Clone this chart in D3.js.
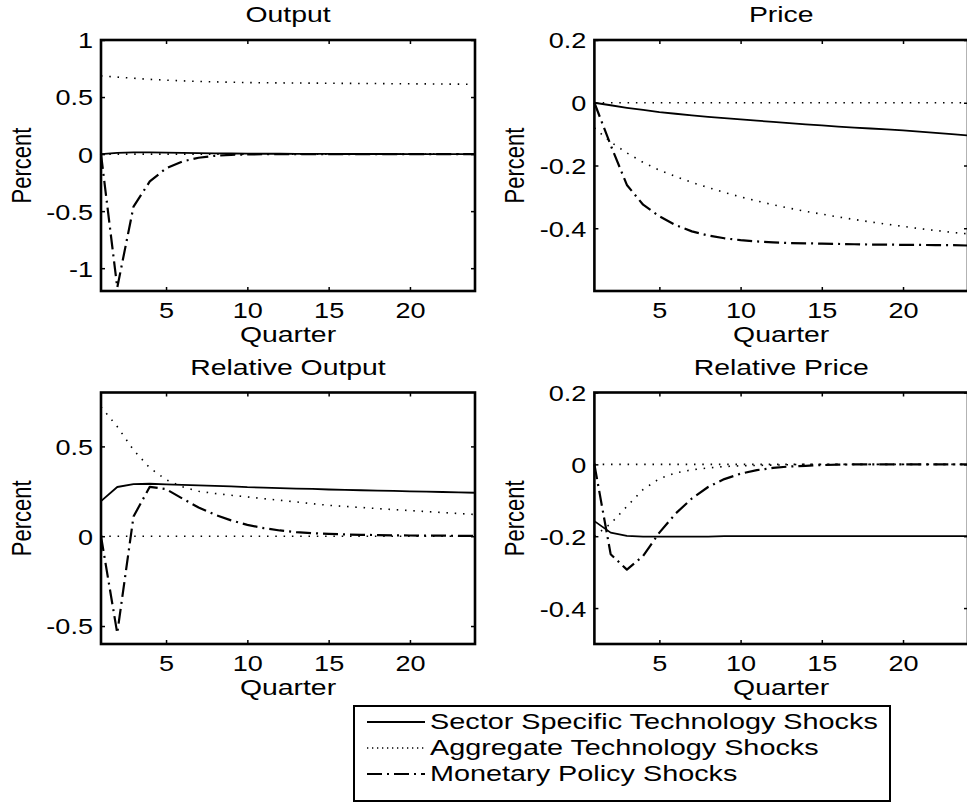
<!DOCTYPE html>
<html>
<head>
<meta charset="utf-8">
<script src="https://cdn.jsdelivr.net/npm/d3@7"></script>
<style>
  body { margin: 0; background: #fff; }
  svg { display: block; overflow: hidden; }
  text { font-family: "Liberation Sans", Arial, Helvetica, sans-serif; fill: #000; }
</style>
</head>
<body>
<div id="chart"></div>
<script>
// quarters after the shock
const quarters = [1, 2, 3, 4, 5, 6, 7, 8, 9, 10, 11, 12, 13, 14, 15, 16, 17, 18, 19, 20, 21, 22, 23, 24]
const xTicks = [5, 10, 15, 20]
const seriesNames = ['Sector Specific Technology Shocks', 'Aggregate Technology Shocks', 'Monetary Policy Shocks']
const panelTitles = ['Output', 'Price', 'Relative Output', 'Relative Price']

// Output
const outputSector = [0, 0.01, 0.015, 0.015, 0.012, 0.01, 0.008, 0.006, 0.005, 0.004, 0.003, 0.003, 0.002, 0.002, 0.002, 0.001, 0.001, 0.001, 0.001, 0, 0, 0, 0, 0]
const outputAggregate = [0.685, 0.675, 0.665, 0.655, 0.648, 0.642, 0.637, 0.633, 0.63, 0.627, 0.625, 0.624, 0.623, 0.622, 0.621, 0.62, 0.619, 0.618, 0.617, 0.616, 0.615, 0.614, 0.613, 0.612]
const outputMonetary = [0, -1.17, -0.46, -0.24, -0.125, -0.065, -0.032, -0.015, -0.007, -0.003, -0.001, 0, 0, 0, 0, 0, 0, 0, 0, 0, 0, 0, 0, 0]
const outputTicks = [-1, -0.5, 0, 0.5, 1]

// Price
const priceSector = [0, -0.008, -0.016, -0.023, -0.03, -0.035, -0.04, -0.045, -0.049, -0.053, -0.057, -0.061, -0.065, -0.069, -0.072, -0.076, -0.079, -0.082, -0.085, -0.088, -0.092, -0.096, -0.1, -0.104]
const priceAggregate = [-0.08, -0.125, -0.16, -0.19, -0.215, -0.235, -0.254, -0.27, -0.286, -0.3, -0.313, -0.325, -0.336, -0.346, -0.355, -0.364, -0.372, -0.38, -0.387, -0.394, -0.401, -0.407, -0.413, -0.418]
const priceMonetary = [0, -0.135, -0.262, -0.325, -0.362, -0.39, -0.41, -0.423, -0.432, -0.438, -0.442, -0.445, -0.447, -0.448, -0.449, -0.45, -0.451, -0.452, -0.452, -0.453, -0.453, -0.454, -0.454, -0.455]
const priceTicks = [-0.4, -0.2, 0, 0.2]

// Relative Output
const relOutputSector = [0.195, 0.274, 0.29, 0.292, 0.289, 0.286, 0.283, 0.28, 0.277, 0.273, 0.271, 0.268, 0.265, 0.263, 0.26, 0.258, 0.256, 0.254, 0.252, 0.25, 0.248, 0.246, 0.244, 0.242]
const relOutputAggregate = [0.72, 0.61, 0.48, 0.38, 0.315, 0.275, 0.25, 0.238, 0.228, 0.219, 0.209, 0.2, 0.191, 0.181, 0.172, 0.166, 0.16, 0.154, 0.148, 0.143, 0.137, 0.132, 0.126, 0.121]
const relOutputMonetary = [0, -0.54, 0.11, 0.275, 0.262, 0.21, 0.16, 0.12, 0.088, 0.063, 0.045, 0.032, 0.023, 0.017, 0.013, 0.01, 0.008, 0.006, 0.005, 0.004, 0.003, 0.003, 0.002, 0.002]
const relOutputTicks = [-0.5, 0, 0.5]

// Relative Price
const relPriceSector = [-0.158, -0.19, -0.199, -0.201, -0.201, -0.201, -0.201, -0.201, -0.2, -0.2, -0.2, -0.2, -0.2, -0.2, -0.2, -0.2, -0.2, -0.2, -0.2, -0.2, -0.2, -0.2, -0.2, -0.2]
const relPriceAggregate = [-0.2, -0.165, -0.117, -0.07, -0.04, -0.024, -0.015, -0.01, -0.006, -0.004, -0.003, -0.002, -0.001, 0, 0, 0, 0, 0, 0, 0, 0, 0, 0, 0]
const relPriceMonetary = [0, -0.25, -0.293, -0.255, -0.19, -0.137, -0.095, -0.063, -0.041, -0.026, -0.016, -0.01, -0.006, -0.004, -0.002, -0.001, 0, 0, 0, 0, 0, 0, 0, 0]
const relPriceTicks = [-0.4, -0.2, 0, 0.2]

const WIDTH = 967
const HEIGHT = 804
// the picture is stretched sideways, so the text is too
const SX_TICK = 1.23
const SX_LABEL = 1.29
const SX_LEGEND = 1.31

const styles = [
    { width: 1.8, dash: null },
    { width: 1.6, dash: '1.5,6.8' },
    { width: 2.2, dash: '15,5,2,5' }
]

const panels = [
    { title: panelTitles[0], left: 101, right: 475, top: 40, bottom: 291, domain: [-1.2, 1], ticks: outputTicks,
      data: [outputSector, outputAggregate, outputMonetary] },
    { title: panelTitles[1], left: 594.4, right: 968, top: 40, bottom: 291, domain: [-0.6, 0.2], ticks: priceTicks,
      data: [priceSector, priceAggregate, priceMonetary] },
    { title: panelTitles[2], left: 101, right: 475, top: 392.5, bottom: 644, domain: [-0.6, 0.8], ticks: relOutputTicks,
      data: [relOutputSector, relOutputAggregate, relOutputMonetary] },
    { title: panelTitles[3], left: 594.4, right: 968, top: 392.5, bottom: 644, domain: [-0.5, 0.2], ticks: relPriceTicks,
      data: [relPriceSector, relPriceAggregate, relPriceMonetary] }
]

const svg = d3.select('#chart').append('svg')
    .attr('width', WIDTH)
    .attr('height', HEIGHT)

svg.append('rect').attr('width', WIDTH).attr('height', HEIGHT).attr('fill', '#fff')

const stretched = (sel, sx, x, y, extra) =>
    sel.attr('transform', `translate(${x},${y}) scale(${sx},1)${extra || ''}`)

panels.forEach(p => {
    const x = d3.scaleLinear().domain([1, 24]).range([p.left, p.right])
    const y = d3.scaleLinear().domain(p.domain).range([p.bottom, p.top])
    const g = svg.append('g')

    // zero reference, dotted
    g.append('line')
        .attr('x1', x(quarters[0])).attr('x2', x(quarters[quarters.length - 1]))
        .attr('y1', y(0)).attr('y2', y(0))
        .attr('stroke', '#000').attr('stroke-width', 1.6).attr('stroke-dasharray', '1.5,6.8')

    const line = d3.line().x((d, i) => x(quarters[i])).y(d => y(d))
    p.data.forEach((values, k) => {
        g.append('path')
            .attr('d', line(values))
            .attr('fill', 'none')
            .attr('stroke', '#000')
            .attr('stroke-width', styles[k].width)
            .attr('stroke-dasharray', styles[k].dash)
            .attr('stroke-linejoin', 'round')
    })

    // axes, ticks pointing inward like matlab
    const bottomAxis = g.append('g').attr('transform', `translate(0,${p.bottom})`)
        .call(d3.axisBottom(x).tickValues(xTicks).tickSizeInner(-4).tickSizeOuter(0).tickFormat(d => String(d)))
    const topAxis = g.append('g').attr('transform', `translate(0,${p.top})`)
        .call(d3.axisTop(x).tickValues(xTicks).tickSizeInner(-4).tickSizeOuter(0).tickFormat(''))
    const leftAxis = g.append('g').attr('transform', `translate(${p.left},0)`)
        .call(d3.axisLeft(y).tickValues(p.ticks).tickSizeInner(-4).tickSizeOuter(0).tickFormat(d => String(d)))
    const rightAxis = g.append('g').attr('transform', `translate(${p.right},0)`)
        .call(d3.axisRight(y).tickValues(p.ticks).tickSizeInner(-4).tickSizeOuter(0).tickFormat(''))

    ;[bottomAxis, topAxis, leftAxis, rightAxis].forEach(a => {
        a.select('.domain').remove()
        a.selectAll('.tick line').attr('stroke', '#000').attr('stroke-width', 1.5)
        a.selectAll('text').attr('font-size', 22).attr('fill', '#000').style('font-family', null)
    })
    bottomAxis.selectAll('.tick text')
        .attr('y', null).attr('dy', null)
        .call(s => stretched(s, SX_TICK, 0, 27))
    leftAxis.selectAll('.tick text')
        .attr('x', null).attr('dy', '0.36em')
        .call(s => stretched(s, SX_TICK, -8, 0))

    g.append('rect')
        .attr('x', p.left).attr('y', p.top)
        .attr('width', p.right - p.left).attr('height', p.bottom - p.top)
        .attr('fill', 'none').attr('stroke', '#000').attr('stroke-width', 2.6)

    const cx = (p.left + p.right) / 2
    g.append('text').text(p.title)
        .attr('text-anchor', 'middle').attr('font-size', 22)
        .call(s => stretched(s, SX_LABEL, cx, p.top - 18))
    g.append('text').text('Quarter')
        .attr('text-anchor', 'middle').attr('font-size', 22)
        .call(s => stretched(s, SX_LABEL, cx, p.bottom + 51))
    g.append('text').text('Percent')
        .attr('text-anchor', 'middle').attr('font-size', 22)
        .call(s => stretched(s, SX_LABEL, p.left - 70, (p.top + p.bottom) / 2, ' rotate(-90)'))
})

// legend
const legend = svg.append('g')
legend.append('rect')
    .attr('x', 354).attr('y', 706).attr('width', 536).attr('height', 95)
    .attr('fill', '#fff').attr('stroke', '#000').attr('stroke-width', 2)
seriesNames.forEach((name, k) => {
    const base = 729 + k * 26
    legend.append('line')
        .attr('x1', 367).attr('x2', 425).attr('y1', base - 7).attr('y2', base - 7)
        .attr('stroke', '#000').attr('stroke-width', styles[k].width)
        .attr('stroke-dasharray', k === 1 ? '1.3,3.7' : styles[k].dash)
    legend.append('text').text(name)
        .attr('font-size', 22)
        .call(s => stretched(s, SX_LEGEND, 430, base))
})
</script>
</body>
</html>
